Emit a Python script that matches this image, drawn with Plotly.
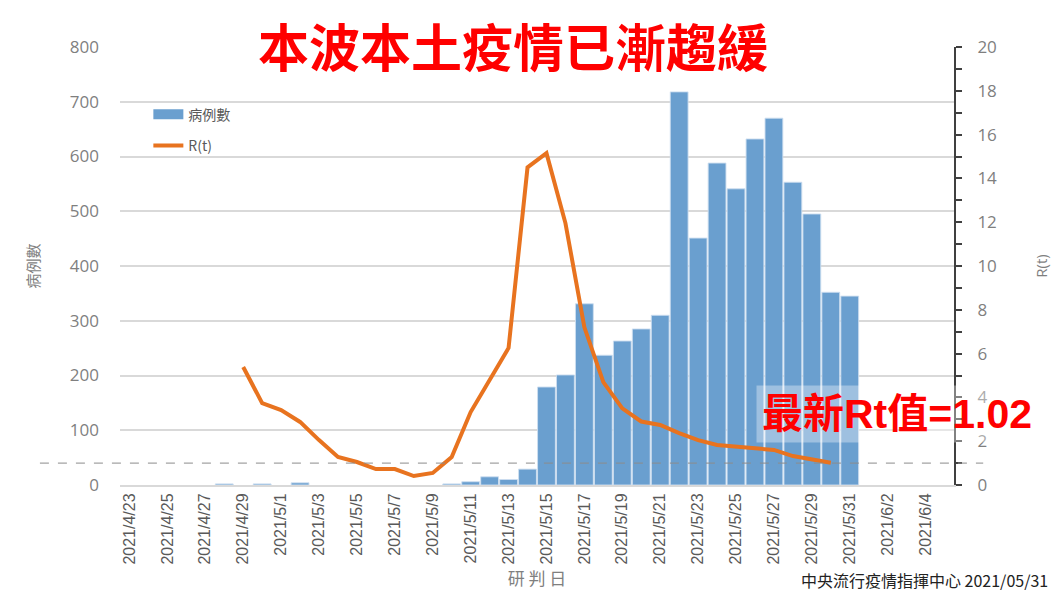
import pandas as pd
import plotly.graph_objects as go

# ---- data ----
case_dates = ["2021-04-28", "2021-04-30", "2021-05-02", "2021-05-10", "2021-05-11",
              "2021-05-12", "2021-05-13", "2021-05-14", "2021-05-15", "2021-05-16",
              "2021-05-17", "2021-05-18", "2021-05-19", "2021-05-20", "2021-05-21",
              "2021-05-22", "2021-05-23", "2021-05-24", "2021-05-25", "2021-05-26",
              "2021-05-27", "2021-05-28", "2021-05-29", "2021-05-30", "2021-05-31"]
cases = [2, 2, 4, 2, 6, 15, 10, 29, 179, 201, 331, 237, 263, 285, 310,
         718, 451, 588, 541, 632, 670, 553, 495, 352, 345]

rt_dates = [d.strftime("%Y-%m-%d") for d in pd.date_range("2021-04-29", "2021-05-30")]
rt = [5.39, 3.74, 3.42, 2.88, 2.05, 1.28, 1.05, 0.73, 0.73, 0.41, 0.55, 1.28,
      3.33, 4.8, 6.26, 14.5, 15.15, 11.96, 7.2, 4.7, 3.5, 2.9, 2.74, 2.37,
      2.05, 1.83, 1.74, 1.69, 1.6, 1.32, 1.19, 1.02]

tick_days = pd.date_range("2021-04-23", "2021-06-04", freq="2D")
tick_vals = [d.strftime("%Y-%m-%d") for d in tick_days]
tick_text = [f"{d.year}/{d.month}/{d.day}" for d in tick_days]

rt_threshold = 1

title_text = "本波本土疫情已漸趨緩"
source_text = "中央流行疫情指揮中心 2021/05/31"

# ---- styles ----
BAR = "#6A9FCF"
ORANGE = "#E8731F"
GRAY = "#7F7F7F"
CJK = "Noto Sans CJK TC"

fig = go.Figure()
fig.add_trace(go.Bar(
    x=case_dates, y=cases, name="病例數", showlegend=False,
    width=86400000 * 0.94,
    marker=dict(color=BAR, line=dict(color="rgba(205,222,240,0.9)", width=1)),
))
fig.add_trace(go.Scatter(
    x=[None], y=[None], mode="lines", name="病例數", legendgroup="a",
    line=dict(color=BAR, width=10),
))
fig.add_trace(go.Scatter(
    x=rt_dates, y=rt, yaxis="y2", mode="lines", name="R(t)", legendgroup="b",
    line=dict(color=ORANGE, width=4),
))

fig.add_shape(type="line", xref="paper", yref="y2",
              x0=-0.096, x1=1.035, y0=rt_threshold, y1=rt_threshold,
              line=dict(color="#8C8C8C", width=1, dash="dash"), layer="above")

fig.add_annotation(
    text=f"<b>最新Rt值={rt[-1]:.2f}</b>", xref="paper", yref="paper",
    x=0.932, y=0.162, xanchor="center", yanchor="middle", showarrow=False,
    font=dict(family="Liberation Sans, " + CJK, size=41, color="#FF0000"),
    bgcolor="rgba(255,255,255,0.35)", borderpad=5,
)
fig.add_annotation(
    text=f"<b>{title_text}</b>", xref="paper", yref="paper",
    x=0.471, y=1.005, xanchor="center", yanchor="middle", showarrow=False,
    font=dict(family=CJK, size=51, color="#FF0000"),
)
fig.add_annotation(
    text=source_text, xref="paper", yref="paper",
    x=1.115, y=-0.217, xanchor="right", yanchor="middle", showarrow=False,
    font=dict(family=CJK, size=16, color="#222222"),
)

fig.update_layout(
    width=1052, height=588,
    margin=dict(l=112, r=106, t=39, b=111, autoexpand=False),
    paper_bgcolor="white", plot_bgcolor="white",
    bargap=0.05,
    showlegend=True,
    legend=dict(x=0.034, y=0.882, xanchor="left", yanchor="top",
                bgcolor="rgba(0,0,0,0)", tracegroupgap=10,
                font=dict(family=CJK, size=14, color="#595959")),
    xaxis=dict(
        type="date", range=["2021-04-22 12:00", "2021-06-05 12:00"],
        tickmode="array", tickvals=tick_vals, ticktext=tick_text,
        tickangle=-90, showgrid=False, zeroline=False, automargin=False,
        showline=True, linecolor="#D9D9D9", linewidth=2,
        tickfont=dict(family="Liberation Sans", size=16, color="#595959"),
        title=dict(text="研 判 日", font=dict(family=CJK, size=17, color=GRAY), standoff=4),
    ),
    yaxis=dict(
        range=[0, 800], dtick=100, showgrid=True, gridcolor="#D9D9D9", gridwidth=1.5,
        zeroline=False, showline=False, ticklabelstandoff=20, automargin=False,
        tickfont=dict(family="Open Sans", size=17, color=GRAY),
        title=dict(text="病例數", font=dict(family=CJK, size=15, color=GRAY), standoff=26),
    ),
    yaxis2=dict(
        overlaying="y", side="right", range=[0, 20], dtick=2,
        showgrid=False, zeroline=False, automargin=False,
        showline=True, linecolor="#404040", linewidth=2,
        ticks="outside", ticklen=6, tickwidth=2, tickcolor="#404040",
        minor=dict(dtick=1, ticks="outside", ticklen=6, tickwidth=2, tickcolor="#404040"),
        ticklabelstandoff=12,
        tickfont=dict(family="Open Sans", size=17, color=GRAY),
        title=dict(text="R(t)", font=dict(family="Open Sans", size=15, color=GRAY), standoff=40),
    ),
)

fig.write_html("out.html")
